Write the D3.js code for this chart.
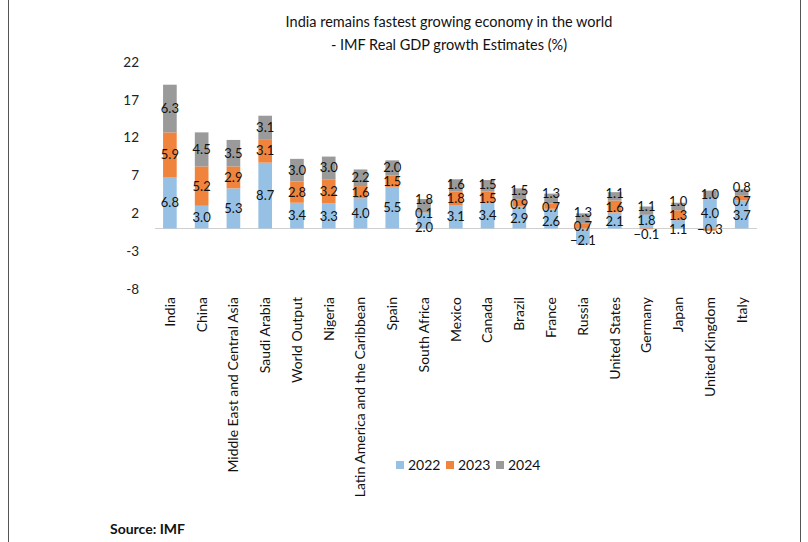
<!DOCTYPE html>
<html>
<head>
<meta charset="utf-8">
<script src="https://cdn.jsdelivr.net/npm/d3@7"></script>
<style>
  html, body { margin: 0; padding: 0; background: #fff; }
  svg { display: block; font-family: Lato, "Open Sans", sans-serif; }
</style>
</head>
<body>
<svg id="chart" width="808" height="542"></svg>
<script>
const categories = ["India", "China", "Middle East and Central Asia", "Saudi Arabia", "World Output", "Nigeria",
  "Latin America and the Caribbean", "Spain", "South Africa", "Mexico", "Canada", "Brazil", "France",
  "Russia", "United States", "Germany", "Japan", "United Kingdom", "Italy"];
const growth2022 = [6.8, 3.0, 5.3, 8.7, 3.4, 3.3, 4.0, 5.5, 2.0, 3.1, 3.4, 2.9, 2.6, -2.1, 2.1, 1.8, 1.1, 4.0, 3.7];
const growth2023 = [5.9, 5.2, 2.9, 3.1, 2.8, 3.2, 1.6, 1.5, 0.1, 1.8, 1.5, 0.9, 0.7, 0.7, 1.6, -0.1, 1.3, -0.3, 0.7];
const growth2024 = [6.3, 4.5, 3.5, 3.1, 3.0, 3.0, 2.2, 2.0, 1.8, 1.6, 1.5, 1.5, 1.3, 1.3, 1.1, 1.1, 1.0, 1.0, 0.8];
const seriesNames = ["2022", "2023", "2024"];
const yTicks = [-8, -3, 2, 7, 12, 17, 22];
const titleLines = ["India remains fastest growing economy in the world", "- IMF Real GDP growth Estimates (%)"];
const sourceText = "Source: IMF";

const colors = {"2022": "#96c1e5", "2023": "#f0843c", "2024": "#9a9a9a"};

const svg = d3.select("#chart");

// frame
svg.append("line").attr("x1", 8.5).attr("x2", 8.5).attr("y1", 0).attr("y2", 542).attr("stroke", "#555").attr("stroke-width", 1);
svg.append("line").attr("x1", 800.5).attr("x2", 800.5).attr("y1", 0).attr("y2", 542).attr("stroke", "#555").attr("stroke-width", 1);

const table = categories.map((c, i) => ({cat: c, "2022": growth2022[i], "2023": growth2023[i], "2024": growth2024[i]}));
const stacked = d3.stack().keys(seriesNames).offset(d3.stackOffsetDiverging)(table);

const x = d3.scaleBand().domain(categories).range([154, 757.6]).paddingInner(0.57).paddingOuter(0.285);
const y = d3.scaleLinear().domain([-8, 22]).range([289, 62]);

// title
svg.append("g").selectAll("text").data(titleLines).join("text")
  .attr("x", 449).attr("y", (d, i) => 22 + i * 23).attr("dy", "0.35em")
  .attr("text-anchor", "middle").attr("font-size", 14.5).attr("fill", "#111").text(d => d);

// y tick labels
svg.append("g").selectAll("text").data(yTicks).join("text")
  .attr("x", 139).attr("y", d => y(d)).attr("dy", "0.35em").attr("text-anchor", "end")
  .attr("font-size", 13.5).attr("fill", "#222").text(d => d);

// baseline
svg.append("line").attr("x1", 155).attr("x2", 757).attr("y1", Math.round(y(0)) + 0.5).attr("y2", Math.round(y(0)) + 0.5)
  .attr("stroke", "#d0d0d0").attr("stroke-width", 1);

// bars
const gBars = svg.append("g");
stacked.forEach(s => {
  gBars.append("g").attr("fill", colors[s.key]).selectAll("rect").data(s).join("rect")
    .attr("x", d => x(d.data.cat)).attr("width", x.bandwidth())
    .attr("y", d => y(Math.max(d[0], d[1]))).attr("height", d => Math.abs(y(d[0]) - y(d[1])));
});

// labels: centered, with de-overlap per bar
const minGap = 14;
const gLab = svg.append("g").attr("font-size", 13).attr("fill", "#111").attr("text-anchor", "middle");
categories.forEach((c, i) => {
  let labs = stacked.map(s => ({v: s[i].data[s.key], cy: (y(s[i][0]) + y(s[i][1])) / 2}));
  labs.sort((a, b) => a.cy - b.cy);
  for (let it = 0; it < 80; it++) {
    let moved = false;
    for (let k = 1; k < labs.length; k++) {
      const d = labs[k].cy - labs[k - 1].cy;
      if (d < minGap - 0.01) {
        const push = (minGap - d) / 2;
        labs[k].cy += push; labs[k - 1].cy -= push; moved = true;
      }
    }
    if (!moved) break;
  }
  labs.forEach(l => {
    gLab.append("text").attr("x", x(c) + x.bandwidth() / 2).attr("y", l.cy).attr("dy", "0.35em")
      .text(d3.format(".1f")(l.v));
  });
});

// category labels
svg.append("g").selectAll("text").data(categories).join("text")
  .attr("transform", d => `translate(${x(d) + x.bandwidth() / 2},297) rotate(-90)`)
  .attr("dy", "0.35em").attr("text-anchor", "end").attr("font-size", 14).attr("fill", "#111").text(d => d);

// legend
const leg = svg.append("g").selectAll("g").data(seriesNames).join("g")
  .attr("transform", (d, i) => `translate(${396 + i * 50},465)`);
leg.append("rect").attr("x", 0).attr("y", -4).attr("width", 8).attr("height", 8).attr("fill", d => colors[d]);
leg.append("text").attr("x", 12).attr("dy", "0.35em").attr("font-size", 14).attr("fill", "#111").text(d => d);

// source
svg.append("text").attr("x", 110).attr("y", 529).attr("dy", "0.35em").attr("font-size", 14)
  .attr("font-weight", "bold").attr("fill", "#111").text(sourceText);
</script>
</body>
</html>
